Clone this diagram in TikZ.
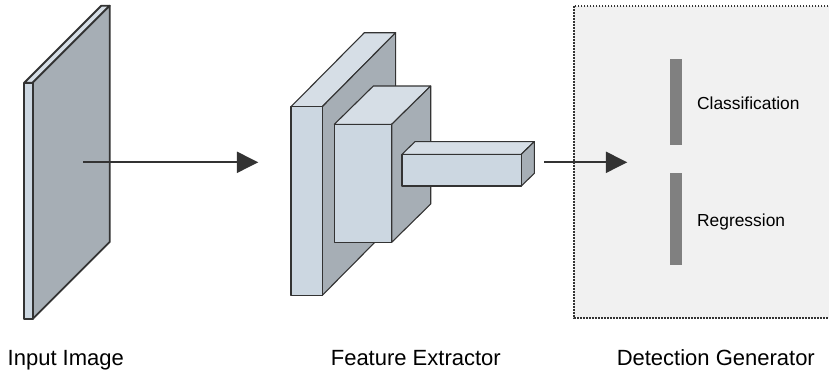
\documentclass[tikz,border=0pt]{standalone}
\usepackage{fontspec}
\setmainfont{Liberation Sans}
\usepackage{tikz}
\usetikzlibrary{arrows.meta}

\definecolor{facefront}{HTML}{CCD7E1}
\definecolor{facetop}{HTML}{D6DEE6}
\definecolor{faceside}{HTML}{A6AEB5}
\definecolor{edge}{HTML}{333333}
\definecolor{panel}{HTML}{F1F1F1}
\definecolor{barcol}{HTML}{808080}

\tikzset{
  edge-width/.initial=0.55pt,
  front-face/.style={fill=facefront, draw=edge, line width=\pgfkeysvalueof{/tikz/edge-width}, line join=round},
  top-face/.style={fill=facetop, draw=edge, line width=\pgfkeysvalueof{/tikz/edge-width}, line join=round},
  side-face/.style={fill=faceside, draw=edge, line width=\pgfkeysvalueof{/tikz/edge-width}, line join=round},
  flow/.style={draw=edge, line width=1pt, -{Triangle[length=10.7pt,width=10.5pt]}},
  dotted-frame/.style={fill=panel, draw=edge, line width=0.9pt, dash pattern=on 0.9pt off 0.6pt},
  big-label/.style={font=\fontsize{11pt}{13pt}\selectfont, anchor=base, inner sep=0pt},
  small-label/.style={font=\fontsize{8.7pt}{10pt}\selectfont, anchor=base west, inner sep=0pt},
}

% front x1, x2, y1, y2, depth dx, dy
\newcommand{\cuboid}[6]{%
  \filldraw[top-face] (#1,#3) -- ++(#5,#6) -- ({#2+#5},{#3+#6}) -- (#2,#3) -- cycle;
  \filldraw[side-face] (#2,#3) -- ++(#5,#6) -- ({#2+#5},{#4+#6}) -- (#2,#4) -- cycle;
  \filldraw[front-face] (#1,#3) rectangle (#2,#4);
}

\begin{document}
\begin{tikzpicture}[x=0.5pt, y=-0.5pt]
\useasboundingbox (0,0) rectangle (829,371);

% input image
\begin{scope}[edge-width=0.9pt]
\cuboid{24.3}{32.7}{82.7}{319}{77}{-77}
\end{scope}

% feature extractor
\cuboid{291}{322.3}{106.7}{295.3}{73.3}{-74}
\cuboid{334.3}{391.7}{124.3}{242.3}{39}{-38.3}
\cuboid{402}{521.3}{154.3}{186}{13}{-12.7}

% detection generator
\filldraw[dotted-frame] (574.3,5.7) rectangle (830,318);
\fill[barcol] (670,59) rectangle (681.7,145);
\fill[barcol] (670,173.3) rectangle (681.7,265);
\node[small-label] (cls) at (696.7,109.3) {Classification};
\node[small-label] (reg) at (696.7,226.7) {Regression};

\coordinate (img-out) at (83.3,162.3);
\coordinate (fe-in) at (258.3,162.3);
\coordinate (fe-out) at (544,162.3);
\coordinate (dg-in) at (627.3,162.3);
\draw[flow] (img-out) -- (fe-in);
\draw[flow] (fe-out) -- (dg-in);

\node[big-label] (img-label) at (65.8,365.7) {Input Image};
\node[big-label] (fe-label) at (415.8,365.7) {Feature Extractor};
\node[big-label] (dg-label) at (715.8,365.7) {Detection Generator};

\end{tikzpicture}
\end{document}
